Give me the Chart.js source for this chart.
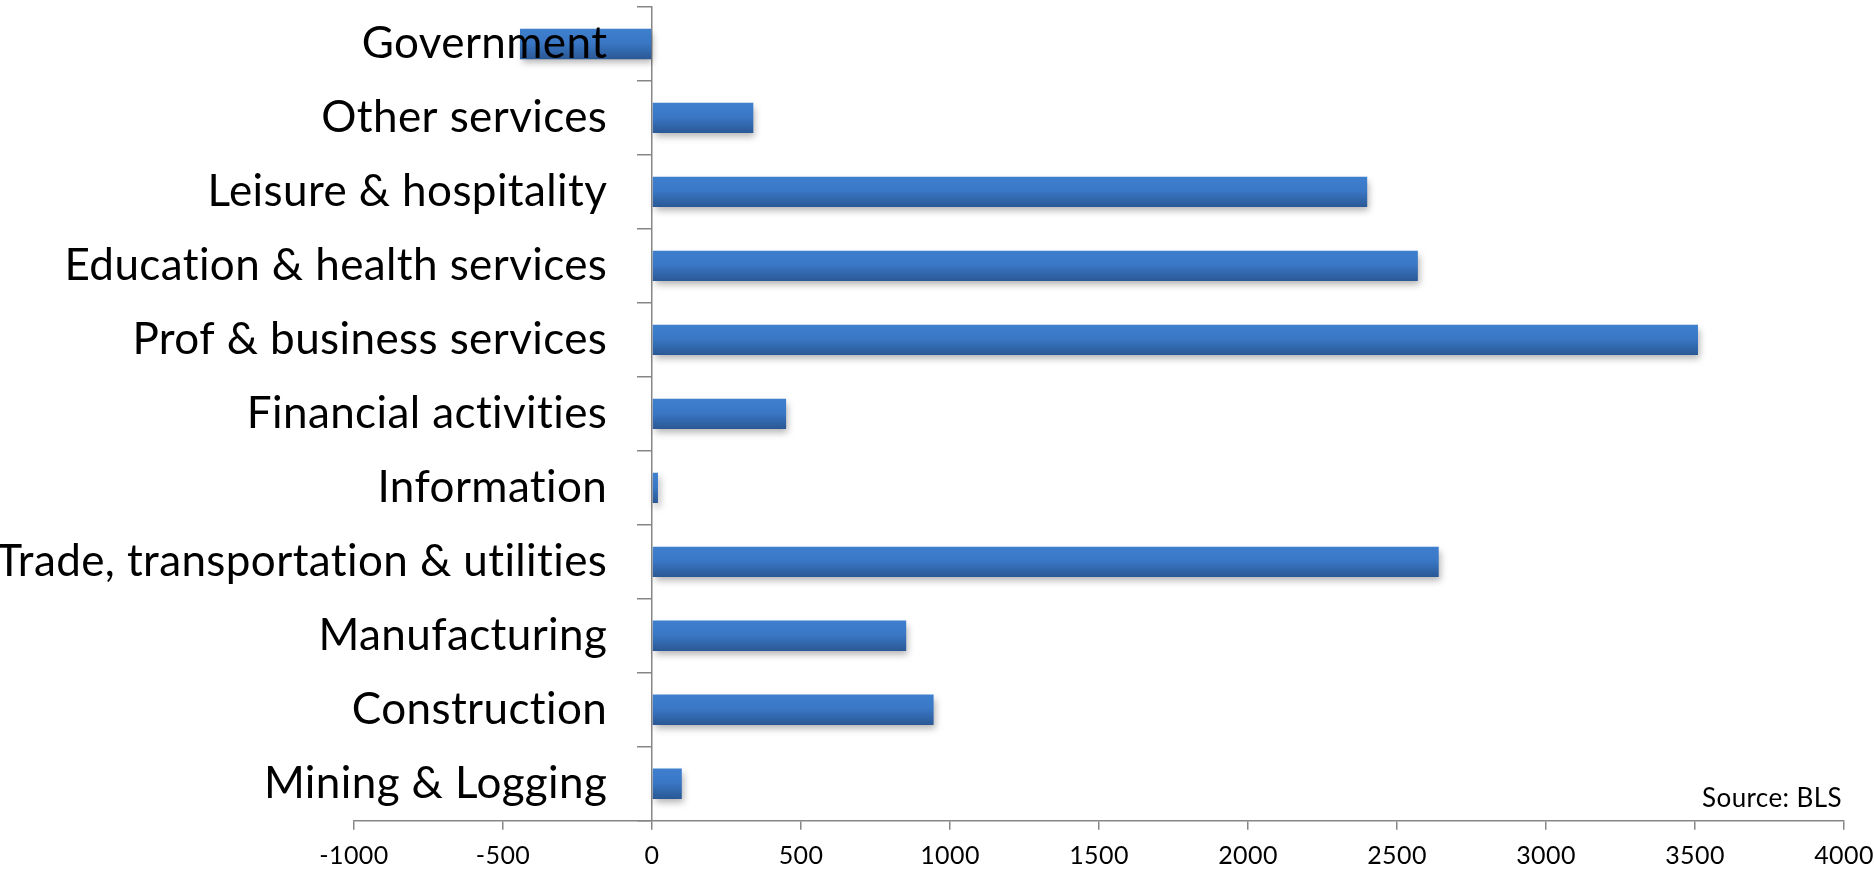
<!DOCTYPE html>
<html>
<head>
<meta charset="utf-8">
<title>Employment change by industry</title>
<script src="https://cdn.jsdelivr.net/npm/chart.js@4/dist/chart.umd.min.js"></script>
<style>
  html, body { margin: 0; padding: 0; background: #fff; }
  #chart { display: block; }
</style>
</head>
<body>
<canvas id="chart" width="1874" height="872"></canvas>
<script>
// industries, top to bottom
const industries = [
  "Government",
  "Other services",
  "Leisure & hospitality",
  "Education & health services",
  "Prof & business services",
  "Financial activities",
  "Information",
  "Trade, transportation & utilities",
  "Manufacturing",
  "Construction",
  "Mining & Logging"
];
// job change (thousands)
const jobChange = [-443, 340, 2400, 2570, 3510, 450, 20, 2640, 853, 945, 100];
// x axis
const xMin = -1000;
const xMax = 4000;
const xStep = 500;

const axisGrey = "#868686";
const labelFont = "Lato, 'Open Sans', sans-serif";
// category names sit a little left of the zero line
const labelAnchor = -150;

// slight letter spacing, also keeps Lato from joining "ti"
const textSpacing = {
  id: "textSpacing",
  beforeDraw(chart) {
    chart.ctx.letterSpacing = "0.4px";
  }
};

// shadow under the bars
const barShadow = {
  id: "barShadow",
  beforeDatasetsDraw(chart) {
    const c = chart.ctx;
    c.save();
    c.shadowColor = "rgba(0,0,0,0.3)";
    c.shadowBlur = 7;
    c.shadowOffsetX = 2;
    c.shadowOffsetY = 4;
  },
  afterDatasetsDraw(chart) {
    chart.ctx.restore();
  }
};

// source note above the x axis
const sourceNote = {
  id: "sourceNote",
  afterDraw(chart) {
    const c = chart.ctx;
    c.save();
    c.font = "26px " + labelFont;
    c.fillStyle = "#000";
    c.textAlign = "right";
    c.textBaseline = "alphabetic";
    c.fillText("Source: BLS", chart.chartArea.right - 2, chart.chartArea.bottom - 14);
    c.restore();
  }
};

const barPct = 0.41;

// vertical gradient, lighter on top
function barFill(context) {
  const chart = context.chart;
  const y = chart.scales.y;
  if (!y || context.dataIndex === undefined) return "#3a78c6";
  const mid = y.getPixelForValue(context.dataIndex);
  const half = (y.bottom - y.top) / industries.length * barPct / 2;
  if (!isFinite(mid) || !isFinite(half) || half <= 0) return "#3a78c6";
  const g = chart.ctx.createLinearGradient(0, mid - half, 0, mid + half);
  g.addColorStop(0, "#3e7fce");
  g.addColorStop(0.45, "#3a78c6");
  g.addColorStop(1, "#2a5895");
  return g;
}

function noPadding(scale) {
  scale.paddingTop = 0;
  scale.paddingBottom = 0;
  scale.paddingLeft = 0;
  scale.paddingRight = 0;
}

new Chart(document.getElementById("chart"), {
  type: "bar",
  data: {
    labels: industries,
    datasets: [{
      data: jobChange,
      backgroundColor: barFill,
      borderWidth: 0,
      barPercentage: barPct,
      categoryPercentage: 1
    }]
  },
  plugins: [textSpacing, barShadow, sourceNote],
  options: {
    indexAxis: "y",
    responsive: false,
    animation: false,
    devicePixelRatio: 1,
    layout: { padding: { left: 354, right: 30, top: 7, bottom: 0 } },
    plugins: {
      legend: { display: false },
      tooltip: { enabled: false }
    },
    scales: {
      x: {
        min: xMin,
        max: xMax,
        afterFit(scale) {
          noPadding(scale);
          scale.height = 51.3;
        },
        ticks: {
          stepSize: xStep,
          padding: 11,
          color: "#000",
          font: { family: labelFont, size: 25 },
          callback: (v) => String(v)
        },
        grid: {
          drawOnChartArea: false,
          drawTicks: true,
          tickLength: 9,
          color: axisGrey,
          lineWidth: 1.5
        },
        border: { color: axisGrey, width: 1.5 }
      },
      // category names
      y: {
        position: { x: labelAnchor },
        offset: true,
        afterFit: noPadding,
        ticks: {
          z: 1,
          padding: 0,
          color: "#000",
          font: { family: labelFont, size: 44 }
        },
        grid: { display: false },
        border: { display: false }
      },
      // zero line with tick marks between categories
      yLine: {
        type: "category",
        axis: "y",
        position: { x: 0 },
        offset: true,
        afterFit: noPadding,
        ticks: { display: false },
        grid: {
          offset: true,
          drawOnChartArea: false,
          drawTicks: true,
          tickLength: 14,
          color: axisGrey,
          lineWidth: 1.5
        },
        border: { color: axisGrey, width: 1.5 }
      }
    }
  }
});
</script>
</body>
</html>
